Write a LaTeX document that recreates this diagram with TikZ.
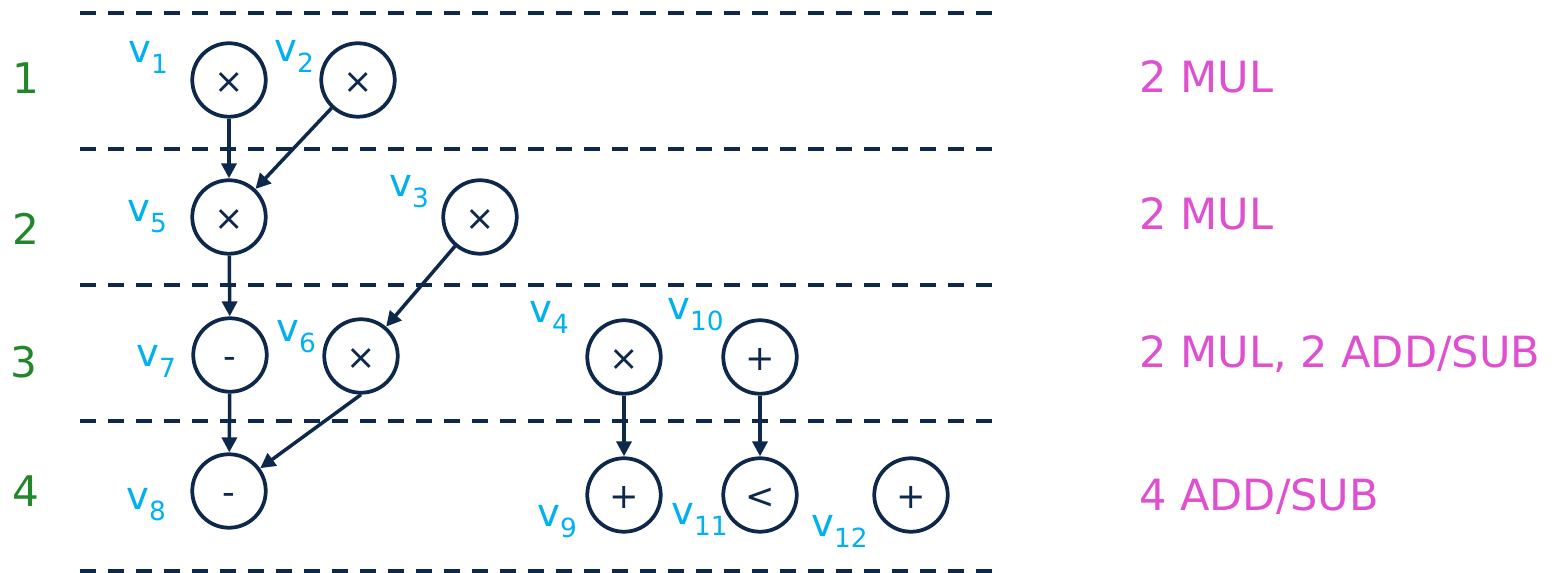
\documentclass[tikz,border=0pt]{standalone}
\usepackage{fontspec}
\setmainfont{DejaVu Sans}
\usetikzlibrary{arrows.meta}
\definecolor{navy}{RGB}{14,40,75}
\definecolor{lblcyan}{RGB}{0,176,240}
\definecolor{rowgreen}{RGB}{34,134,42}
\definecolor{resmag}{RGB}{222,80,208}
\newcommand\vsub[1]{v\raisebox{-0.22cm}{\fontsize{15}{18}\selectfont #1}}
\begin{document}
\begin{tikzpicture}[x=0.02cm,y=-0.02cm,
  op/.style={circle,draw=navy,line width=0.075cm,minimum size=1.47cm,inner sep=0pt,
    text=navy,font=\fontsize{20}{24}\selectfont,text height=0.54cm,text depth=0pt},
  edge/.style={draw=navy,line width=0.07cm,-{Triangle[length=0.3cm,width=0.3cm]}},
  sepline/.style={draw=navy,line width=0.08cm,dash pattern=on 0.32cm off 0.24cm},
  lbl/.style={anchor=base west,text=lblcyan,inner sep=0pt,font=\fontsize{22}{26}\selectfont},
  rownum/.style={text=rowgreen,inner sep=0pt,font=\fontsize{24}{28}\selectfont},
  res/.style={anchor=base west,text=resmag,inner sep=0pt,font=\fontsize{24.5}{28}\selectfont}]
\useasboundingbox (0,0) rectangle (1563,573);
% separators
\foreach \y in {13,149,285,421,571}
  \draw[sepline] (80,\y) -- (992,\y);
% operation nodes
\node[op] (v1) at (229,80) {×};
\node[op] (v2) at (358,80) {×};
\node[op] (v5) at (229,217) {×};
\node[op] (v3) at (480,217) {×};
\node[op] (v7) at (230,355) {-};
\node[op] (v6) at (361,356) {×};
\node[op] (v4) at (624,357) {×};
\node[op] (v10) at (760,357) {+};
\node[op] (v8) at (229,491) {-};
\node[op] (v9) at (624,495) {+};
\node[op] (v11) at (760,495) {<};
\node[op] (v12) at (911,495) {+};
% labels
\node[lbl] (l1) at (128,63) {\vsub{1}};
\node[lbl] (l2) at (274,62) {\vsub{2}};
\node[lbl] (l5) at (127,222) {\vsub{5}};
\node[lbl] (l3) at (389,197) {\vsub{3}};
\node[lbl] (l7) at (136,367) {\vsub{7}};
\node[lbl] (l6) at (276,342) {\vsub{6}};
\node[lbl] (l4) at (529,323) {\vsub{4}};
\node[lbl] (l10) at (667,320) {\vsub{10}};
\node[lbl] (l8) at (126,510) {\vsub{8}};
\node[lbl] (l9) at (537,527) {\vsub{9}};
\node[lbl] (l11) at (671,525) {\vsub{11}};
\node[lbl] (l12) at (811,537) {\vsub{12}};
% edges
\draw[edge] (v1) -- (v5);
\draw[edge] (v2) -- (v5);
\draw[edge] (v5) -- (v7);
\draw[edge] (v3) -- (v6);
\draw[edge] (v7) -- (v8);
\draw[edge] (v6.south) -- (v8);
\draw[edge] (v4) -- (v9);
\draw[edge] (v10) -- (v11);
% row numbers
\node[rownum] (r1) at (26,78) {1};
\node[rownum] (r2) at (26,229) {2};
\node[rownum] (r3) at (24,362) {3};
\node[rownum] (r4) at (26,491) {4};
% resources
\node[res] (c1) at (1139,93) {2 MUL};
\node[res] (c2) at (1139,230) {2 MUL};
\node[res] (c3) at (1139,368) {2 MUL, 2 ADD/SUB};
\node[res] (c4) at (1139,511) {4 ADD/SUB};
\end{tikzpicture}
\end{document}
